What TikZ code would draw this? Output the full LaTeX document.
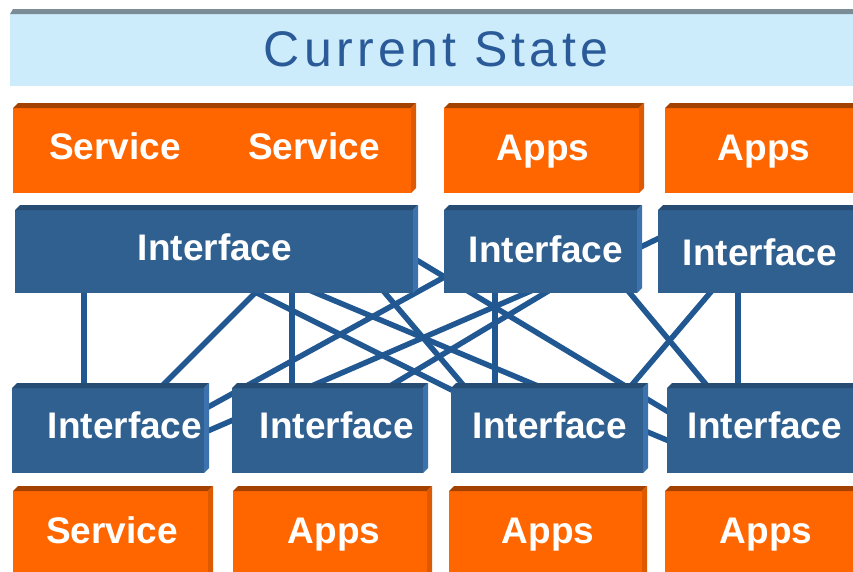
\documentclass[tikz,border=0pt]{standalone}
\usepackage{fontspec}
\setmainfont{Liberation Sans}
\newfontfamily\titlefont[LetterSpace=8.5]{Liberation Sans}
\usetikzlibrary{backgrounds}
\definecolor{orface}{HTML}{FF6600}
\definecolor{ortop}{HTML}{A34200}
\definecolor{orside}{HTML}{DD5A00}
\definecolor{blface}{HTML}{30608F}
\definecolor{bltop}{HTML}{274C74}
\definecolor{blside}{HTML}{3C73AE}
\definecolor{lnk}{HTML}{215891}
\definecolor{bandfill}{HTML}{CCEBFB}
\definecolor{bandtop}{HTML}{7B8C97}
\definecolor{titlecol}{HTML}{2A5A98}
\newcommand\cubebox[6]{%
  \fill[#6face] (#2,#3+5) rectangle (#4-5,#5);
  \fill[#6top] (#2,#3+5) -- (#2+5,#3) -- (#4,#3) -- (#4-5,#3+5) -- cycle;
  \fill[#6side] (#4-5,#3+5) -- (#4,#3) -- (#4,#5-5) -- (#4-5,#5) -- cycle;
  \node[inner sep=0pt, outer sep=0pt, minimum width={(#4-#2)*1pt}, minimum height={(#5-#3)*1pt}] (#1) at ({(#2+#4)/2},{(#3+#5)/2}) {};
}
\tikzset{
  lbl/.style={text=white, font=\fontsize{37}{40}\selectfont\bfseries, anchor=base, inner sep=0pt},
  link/.style={draw=lnk, line width=5.5pt}
}
\begin{document}
\begin{tikzpicture}[x=1pt,y=-1pt]
\useasboundingbox (0,0) rectangle (853,571);
% title band
\fill[bandfill] (10,14) rectangle (853,86);
\fill[bandtop] (10,14) -- (13,9) -- (853,9) -- (853,14) -- cycle;
\node[text=titlecol, anchor=base, inner sep=0pt, font=\titlefont\fontsize{50}{54}\selectfont] (title) at (436,66) {Current State};

% top orange row
\cubebox{svc}{13}{103}{416}{193}{or}
\cubebox{appA}{444}{103}{644}{193}{or}
\cubebox{appB}{665}{103}{860}{193}{or}
% top interfaces
\cubebox{ti1}{15}{205}{418}{293}{bl}
\cubebox{ti2}{444}{205}{642}{293}{bl}
\cubebox{ti3}{658}{205}{860}{293}{bl}
% bottom interfaces
\cubebox{bi1}{12}{383}{209}{473}{bl}
\cubebox{bi2}{232}{383}{428}{473}{bl}
\cubebox{bi3}{451}{383}{648}{473}{bl}
\cubebox{bi4}{667}{383}{860}{473}{bl}
% bottom orange row
\cubebox{bs1}{13}{486}{213}{578}{or}
\cubebox{ba2}{233}{486}{432}{578}{or}
\cubebox{ba3}{449}{486}{647}{578}{or}
\cubebox{ba4}{665}{486}{860}{578}{or}

% labels
\node[lbl] (l-s1) at (115,159) {Service};
\node[lbl] (l-s2) at (314,159) {Service};
\node[lbl] (l-a1) at (543,160) {Apps};
\node[lbl] (l-a2) at (764,160) {Apps};
\node[lbl] (l-t1) at (215,260) {Interface};
\node[lbl] (l-t2) at (546,262) {Interface};
\node[lbl] (l-t3) at (760,265) {Interface};
\node[lbl] (l-b1) at (125,438) {Interface};
\node[lbl] (l-b2) at (337,438) {Interface};
\node[lbl] (l-b3) at (550,438) {Interface};
\node[lbl] (l-b4) at (765,438) {Interface};
\node[lbl] (l-c1) at (112,543) {Service};
\node[lbl] (l-c2) at (334,543) {Apps};
\node[lbl] (l-c3) at (548,543) {Apps};
\node[lbl] (l-c4) at (766,543) {Apps};

% connector end points (inside the boxes, lines run behind them)
\coordinate (p1a) at (84,285);   \coordinate (p1b) at (84,395);
\coordinate (p2a) at (268,280);  \coordinate (p2b) at (148,400);
\coordinate (p3a) at (292,285);  \coordinate (p3b) at (292,395);
\coordinate (p4a) at (231,280);  \coordinate (p4b) at (480,404);
\coordinate (p5a) at (290,282);  \coordinate (p5b) at (700,454);
\coordinate (p6a) at (380,238);  \coordinate (p6b) at (700,431);
\coordinate (p7a) at (374,280);  \coordinate (p7b) at (476,400);
\coordinate (p8a) at (170,428);  \coordinate (p8b) at (470,263);
\coordinate (p9a) at (180,443);  \coordinate (p9b) at (540,287);
\coordinate (p10a) at (370,398); \coordinate (p10b) at (560,284);
\coordinate (p11a) at (495,285); \coordinate (p11b) at (495,395);
\coordinate (p12a) at (619,280); \coordinate (p12b) at (719,400);
\coordinate (p13a) at (721,280); \coordinate (p13b) at (619,400);
\coordinate (p14a) at (738,285); \coordinate (p14b) at (738,395);
\coordinate (p15a) at (620,257); \coordinate (p15b) at (680,228);

\begin{scope}[on background layer]
\foreach \i in {1,...,15} {
  \draw[link] (p\i a) -- (p\i b);
}
\end{scope}
\end{tikzpicture}
\end{document}
